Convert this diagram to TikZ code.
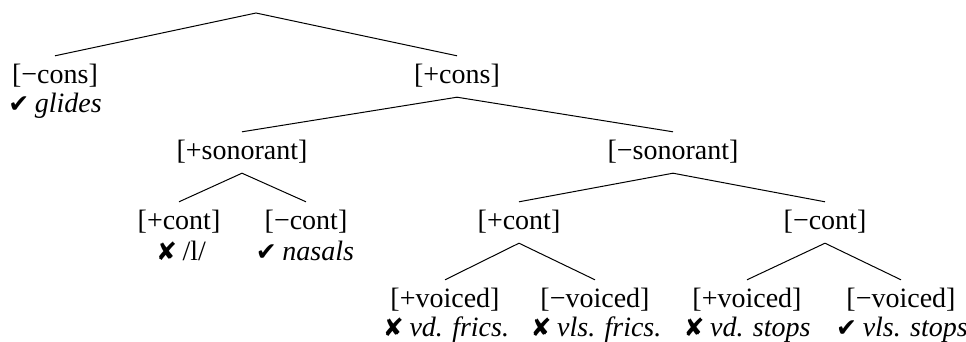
\documentclass[tikz,border=0pt]{standalone}
\usepackage{fontspec}
\setmainfont{Liberation Serif}
\newfontfamily\symfont{DejaVu Sans}
\newcommand{\yesmark}{{\symfont\fontsize{25}{25}\selectfont ✔}}
\newcommand{\nomark}{{\symfont\fontsize{25}{25}\selectfont ✘}}
\begin{document}
\begin{tikzpicture}[x=1pt,y=-1pt,
  feat/.style={anchor=base, inner xsep=0pt, inner ysep=7pt, text height=20pt, text depth=7pt,
               font=\fontsize{28}{34}\selectfont},
  ann/.style={anchor=base, inner sep=0pt, font=\fontsize{28}{34}\selectfont},
  edge/.style={line width=1pt}]
\useasboundingbox (0,0) rectangle (966,341);

\coordinate (root) at (256,13);
% level 1
\node[feat] (mcons) at (55,83) {[−cons]};
\node[ann] (glides) at (55,112) {\yesmark\hspace{0.2em}\textit{glides}};
\node[feat] (pcons) at (457,83) {[+cons]};
% level 2
\node[feat] (pson) at (242,159) {[+sonorant]};
\node[feat] (mson) at (673,159) {[−sonorant]};
% level 3
\node[feat] (pcontL) at (179,229) {[+cont]};
\node[ann] (lat) at (181,260) {\nomark\hspace{0.2em}/l/};
\node[feat] (mcontL) at (306,229) {[−cont]};
\node[ann] (nasals) at (305,260) {\yesmark\hspace{0.2em}\textit{nasals}};
\node[feat] (pcontM) at (519,229) {[+cont]};
\node[feat] (mcontR) at (825,229) {[−cont]};
% level 4
\node[feat] (pvA) at (445,307) {[+voiced]};
\node[ann] (vdf) at (446,336) {\nomark\hspace{0.2em}\textit{vd. frics.}};
\node[feat] (mvA) at (595,307) {[−voiced]};
\node[ann] (vlsf) at (596,336) {\nomark\hspace{0.2em}\textit{vls. frics.}};
\node[feat] (pvB) at (747,307) {[+voiced]};
\node[ann] (vds) at (747,336) {\nomark\hspace{0.2em}\textit{vd. stops}};
\node[feat] (mvB) at (901,307) {[−voiced]};
\node[ann] (vlss) at (902,336) {\yesmark\hspace{0.2em}\textit{vls. stops}};

\draw[edge] (mcons.north) -- (root) -- (pcons.north);
\draw[edge] (pson.north) -- (pcons.south) -- (mson.north);
\draw[edge] (pcontL.north) -- (pson.south) -- (mcontL.north);
\draw[edge] (pcontM.north) -- (mson.south) -- (mcontR.north);
\draw[edge] (pvA.north) -- (pcontM.south) -- (mvA.north);
\draw[edge] (pvB.north) -- (mcontR.south) -- (mvB.north);
\end{tikzpicture}
\end{document}
